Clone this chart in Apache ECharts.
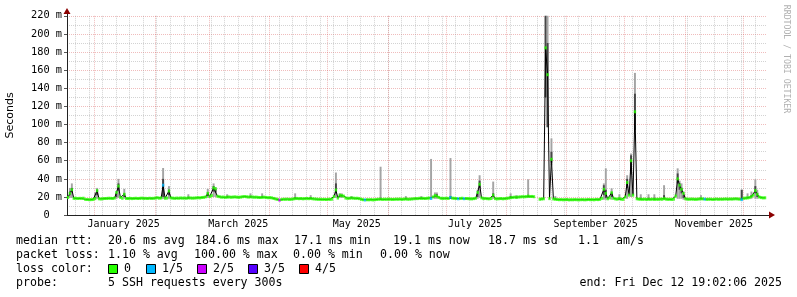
<!DOCTYPE html>
<html><head><meta charset="utf-8">
<script src="https://cdn.jsdelivr.net/npm/echarts@6/dist/echarts.min.js"></script>
<style>html,body{margin:0;padding:0;background:#fff}#c{width:797px;height:297px}</style>
</head><body><div id="c"></div>
<script>
const DAY = 86400000;
const endTime = Date.UTC(2025, 11, 12, 19, 2, 6);
const spanDays = 360;
const startTime = endTime - spanDays * DAY;

// daily median rtt (ms), index = day since start
const median = [
 19.5,24,28,18.5,18.6,18.3,18.5,18.4,18.6,17.3,17.2,17.0,17.1,17.3,18.2,27,18.0,17.8,18.1,18.3,
 18.4,18.6,18.5,18.3,18.8,25,32,19.5,18.6,23,18.4,18.3,18.5,18.2,18.4,18.6,18.3,18.5,18.7,18.4,
 18.5,18.3,18.6,18.4,18.5,18.8,19.2,18.7,18.9,33,18.6,18.8,26.6,19.0,18.7,18.5,18.8,18.6,18.9,18.7,
 18.8,18.6,19.0,18.9,18.7,18.8,19.0,19.2,19.0,19.4,19.6,20.2,24,20.5,21.5,30,29,20.8,20.3,19.8,
 19.9,19.6,19.8,20.0,19.7,19.9,20.1,19.8,19.6,19.9,20.3,20.5,20.2,19.9,20.1,20.0,19.7,19.8,19.5,19.4,
 19.6,19.8,19.5,19.2,19.3,19.0,18.4,17.8,17.3,16.5,17.2,17.5,17.4,17.6,17.3,17.5,17.8,18.2,18.4,18.1,
 18.3,18.0,18.2,18.4,18.1,18.3,18.0,17.8,17.6,17.4,17.5,17.3,17.4,17.2,17.5,17.4,17.6,20.5,27.7,18.8,
 22,21.5,21,18.8,18.5,18.6,18.9,18.7,18.5,18.6,18.2,17.5,17.0,16.7,17.0,16.9,17.1,16.8,17.0,17.3,
 17.5,17.6,17.3,17.5,17.4,17.6,17.5,17.3,17.4,17.6,17.5,17.7,17.4,17.6,17.8,17.5,17.6,17.8,18.0,18.3,
 18.2,18.6,18.4,18.5,18.3,18.6,18.8,18.3,20.0,21.5,20.8,19.5,18.6,18.4,18.5,18.6,18.4,19.5,18.7,18.5,
 18.3,18.0,18.4,18.6,18.1,18.3,18.2,18.0,17.9,18.2,18.6,25,34,19.0,18.2,18.4,18.1,18.0,18.3,22,
 18.2,17.9,18.1,18.3,18.0,18.2,18.5,18.8,19.2,19.5,19.8,19.6,19.9,20.1,20.3,20.2,20.4,21,20.5,20.6,
 20.3,null,null,17.5,17.8,18.0,184.6,155,18.2,61.6,17.8,17.5,17.2,17.0,17.1,16.9,17.0,17.2,16.8,17.0,
 16.9,17.1,17.0,16.8,17.0,17.1,16.9,17.0,17.2,17.0,17.1,16.9,17.3,17.1,17.4,18.5,28.5,24,18.0,19.0,
 24.7,18.5,17.8,17.6,18.4,17.5,17.4,20,36,22,60,22,114,18.0,17.6,17.5,17.4,17.6,17.3,17.5,
 17.4,17.6,17.3,17.5,17.4,17.7,17.5,18.2,17.6,17.4,17.5,17.3,17.6,21,40,33,28.5,24,18.0,17.6,
 17.5,17.7,17.6,17.4,17.5,17.8,18.0,17.9,17.6,17.4,17.5,17.6,17.3,17.5,17.7,17.4,17.6,17.5,17.7,17.8,
 17.6,17.8,17.7,17.9,18.0,17.8,17.6,17.1,18.5,18.8,19.0,19.3,20.5,22,27,23,20,19.3,19.0,19.1
];

// smoke: [day, min, darkLow, darkHigh, max] (ms)
const smoke = [
 [1,19,22,26,30],[2,19,25,30,35],[14,18,19,20,25],[15,18,22,28,30],[25,18,20,24,26],
 [26,19,27,35,40],[29,18,20,24,29],[49,18,20,40,52],[52,18,22,28,32],[62,18,19,20,23],
 [72,19,21,25,29],[75,20,26,32,35],[76,20,25,29,31],[82,19,20,21,23],[94,19,20,21,24],
 [100,19,20,21,24],[117,18,19,20,24],[125,18,19,20,22],[138,19,24,35,47],[140,19,20,22,24],
 [141,19,20,22,24],[146,18,19,20,21],[161,17,18,19,53.4],[174,17,18,19,21],[182,18,19,20,21],
 [187,18,19,20,62],[189,18,20,22,25],[190,18,20,23,25],[197,18,19,21,63],[211,18,20,24,28],
 [212,19,30,38,44],[219,18,20,24,37],[228,18,19,21,24],[231,18,19,20,22],[237,19,20,22,39.5],
 [246,130,130,221,221],[247,97,97,190,221],[249,55,58,70,84.7],[251,17,18,19,21],
 [276,17,22,33,35],[277,17,19,28,51.6],[280,17,20,25,29.6],[284,17,18,19,23],[288,18,30,40,44],
 [290,20,45,66,68],[292,94,94,134,157],[295,17,18,19,23],[299,17,18,19,23],[302,17,18,19,23],
 [307,17,18,22,33],[314,18,35,46,51.6],[315,18,28,35,38],[316,18,24,30,35],[317,17,19,22,26],
 [326,17,18,19,22],[347,17,17,28,28],[350,18,19,20,24],[352,18,20,22,26],[354,18,24,32,39.5],
 [355,18,20,24,28]
];

// loss level per day (default 0): [day, level]
const lossPoints = [[49,1],[109,2],[153,1],[187,1],[197,1],[201,1],[204,1],[328,1],[347,1]];
const lossColors = ['#26ff00', '#00b8ff', '#cc00ff', '#5500ff', '#ff0000'];
const lossLabels = ['0', '1/5', '2/5', '3/5', '4/5'];

const monthLabels = ['January 2025', 'March 2025', 'May 2025', 'July 2025', 'September 2025', 'November 2025'];
const monthLabelMonths = [0, 2, 4, 6, 8, 10];

const rttLine = ['median rtt:', '20.6 ms avg', '184.6 ms max', '17.1 ms min', '19.1 ms now', '18.7 ms sd', '1.1', 'am/s'];
const lossLine = ['packet loss:', '1.10 % avg', '100.00 % max', '0.00 % min', '0.00 % now'];
const probeLine = ['probe:', '5 SSH requests every 300s', 'end: Fri Dec 12 19:02:06 2025'];

// ---- derived ----
const dayX = i => startTime + (i + 0.5) * DAY;
const lossMap = {};
lossPoints.forEach(p => lossMap[p[0]] = p[1]);
const lineData = median.map((v, i) => [dayX(i), v]);
const dotData = [];
median.forEach((v, i) => { if (v !== null) dotData.push([dayX(i), v, lossMap[i] || 0]); });
const smokeData = smoke.map(s => [dayX(s[0]), s[1], s[2], s[3], s[4]]);

const weekTicks = [];
for (let t = Date.UTC(2024, 11, 22); t <= endTime; t += 7 * DAY) weekTicks.push(t);
const monthTicks = [];
for (let m = 0; m < 12; m++) monthTicks.push(Date.UTC(2025, m, 1));
const labelTicks = monthLabelMonths.map(m => Date.UTC(2025, m, 16));
const labelMap = {};
labelTicks.forEach((t, k) => labelMap[t] = monthLabels[k]);

const MONO = '"DejaVu Sans Mono", monospace';
const minorGrid = {color: 'rgba(150,150,150,0.42)', width: 1, type: [1, 1]};
const majorGrid = {color: 'rgba(215,80,80,0.38)', width: 1, type: [1, 1]};

const chart = echarts.init(document.getElementById('c'), null, {renderer: 'canvas'});

const legendFont = '11.6px ' + MONO;
const graphics = [];
function txt(s, x, y, extra) {
  graphics.push(Object.assign({type: 'text', x: x, y: y, silent: true,
    style: {text: s, font: legendFont, fill: '#000', verticalAlign: 'middle'}}, extra || {}));
}
const rttX = [16, 108, 195, 294, 393, 488, 578, 616];
rttLine.forEach((s, k) => txt(s, rttX[k], 241));
const lossX = [16, 108, 194, 293, 380];
lossLine.forEach((s, k) => txt(s, lossX[k], 255));
txt('loss color:', 16, 269);
const boxX = [108.5, 146.5, 197.5, 248.5, 299.5];
lossLabels.forEach((s, k) => {
  graphics.push({type: 'rect', silent: true, shape: {x: boxX[k], y: 264.5, width: 9, height: 9},
    style: {fill: lossColors[k], stroke: '#000', lineWidth: 1}});
  txt(s, boxX[k] + 15.5, 269);
});
txt(probeLine[0], 16, 283);
txt(probeLine[1], 108, 283);
graphics.push({type: 'text', x: 782, y: 283, silent: true,
  style: {text: probeLine[2], font: legendFont, fill: '#000', verticalAlign: 'middle', align: 'right'}});
graphics.push({type: 'text', x: 786, y: 59, rotation: -Math.PI / 2, silent: true,
  style: {text: 'RRDTOOL / TOBI OETIKER', font: '8.2px ' + MONO, fill: '#b0b0b0', align: 'center', verticalAlign: 'middle'}});

const hiddenAxis = {axisLabel: {show: false}, axisTick: {show: false}, splitLine: {show: false}};

chart.setOption({
  animation: false,
  backgroundColor: '#ffffff',
  grid: [
    {left: 67, right: 31, top: 15.8, bottom: 81.9, containLabel: false, outerBoundsMode: 'none'},
    {left: 67, right: 28, top: 13, bottom: 81.9, containLabel: false, outerBoundsMode: 'none'}
  ],
  xAxis: [
    {type: 'value', gridIndex: 0, min: startTime, max: endTime,
     axisLine: {show: false},
     axisTick: {show: false, customValues: weekTicks},
     splitLine: {show: true, lineStyle: minorGrid},
     axisLabel: {show: true, customValues: labelTicks, formatter: v => labelMap[v] || '',
       fontFamily: MONO, fontSize: 10, color: '#000', margin: 4}},
    {type: 'value', gridIndex: 0, min: startTime, max: endTime,
     axisLine: {show: false},
     axisTick: {show: false, customValues: monthTicks},
     splitLine: {show: true, lineStyle: majorGrid},
     axisLabel: {show: false}},
    Object.assign({type: 'value', gridIndex: 1, min: 0, max: 1,
     axisLine: {show: true, symbol: ['none', 'triangle'], symbolSize: [7, 6], symbolOffset: [0, 3],
       lineStyle: {color: '#8b0000', width: 1}}}, hiddenAxis),
    Object.assign({type: 'value', gridIndex: 1, min: 0, max: 1,
     axisLine: {show: true, lineStyle: {color: '#222', width: 1}}}, hiddenAxis)
  ],
  yAxis: [
    {type: 'value', gridIndex: 0, min: 0, max: 220, interval: 20,
     axisLine: {show: false},
     axisTick: {show: true, length: 3, lineStyle: {color: '#555'}},
     axisLabel: {formatter: v => v === 0 ? '0\u00a0\u00a0' : v + ' m', fontFamily: MONO, fontSize: 10.3, color: '#000', margin: 5},
     splitLine: {show: true, lineStyle: majorGrid},
     minorTick: {show: false, splitNumber: 2},
     minorSplitLine: {show: true, lineStyle: minorGrid},
     name: 'Seconds', nameLocation: 'middle', nameGap: 51.5,
     nameTextStyle: {fontFamily: '"DejaVu Sans", sans-serif', fontSize: 11, color: '#000'}},
    Object.assign({type: 'value', gridIndex: 1, min: 0, max: 1,
     axisLine: {show: true, symbol: ['none', 'triangle'], symbolSize: [7, 6], symbolOffset: [0, 2],
       lineStyle: {color: '#8b0000', width: 1}}}, hiddenAxis),
    Object.assign({type: 'value', gridIndex: 1, min: 0, max: 1,
     axisLine: {show: true, lineStyle: {color: '#222', width: 1}}}, hiddenAxis)
  ],
  series: [
    {type: 'custom', xAxisIndex: 0, yAxisIndex: 0, z: 1, data: smokeData,
     renderItem: function (params, api) {
       const cs = params.coordSys;
       const clampY = y => Math.max(cs.y, Math.min(cs.y + cs.height, y));
       const x0 = api.coord([api.value(0) - DAY / 2, 0])[0];
       const x1 = api.coord([api.value(0) + DAY / 2, 0])[0];
       const yMin = clampY(api.coord([0, api.value(1)])[1]);
       const yLo = clampY(api.coord([0, api.value(2)])[1]);
       const yHi = clampY(api.coord([0, api.value(3)])[1]);
       const yMax = clampY(api.coord([0, api.value(4)])[1]);
       return {type: 'group', children: [
         {type: 'rect', shape: {x: x0, y: yMax, width: x1 - x0, height: yMin - yMax}, style: {fill: '#a4a4a4'}},
         {type: 'rect', shape: {x: x0, y: yHi, width: x1 - x0, height: yLo - yHi}, style: {fill: '#474747'}}
       ]};
     }},
    {type: 'line', xAxisIndex: 0, yAxisIndex: 0, z: 2, data: lineData, symbol: 'none',
     connectNulls: false, lineStyle: {color: '#000', width: 1}},
    {type: 'scatter', xAxisIndex: 0, yAxisIndex: 0, z: 3, data: dotData, symbol: 'rect',
     symbolSize: [2.4, 3], itemStyle: {color: p => lossColors[p.data[2]]}}
  ],
  graphic: graphics
});
</script>
</body></html>
